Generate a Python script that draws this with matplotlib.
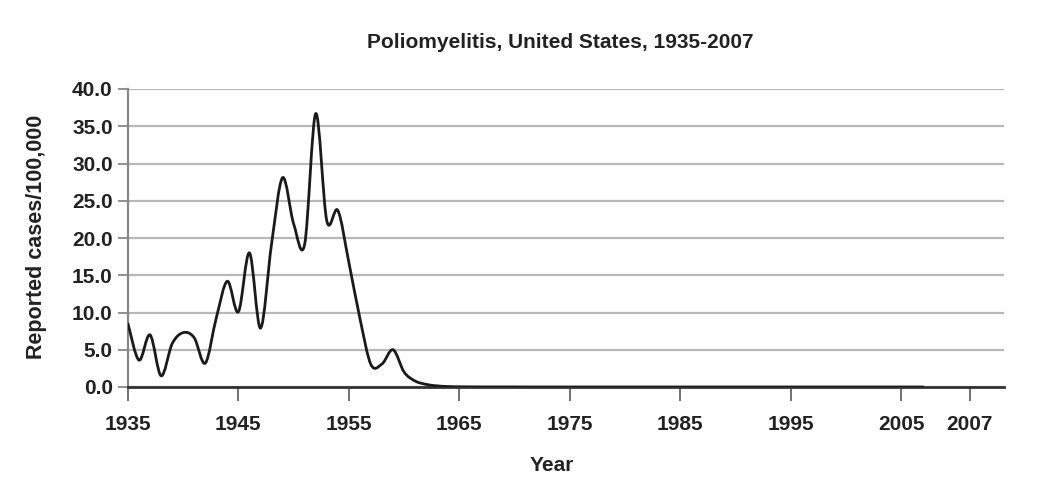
import matplotlib
matplotlib.use("Agg")
import numpy as np
import matplotlib.pyplot as plt
from matplotlib.path import Path
from matplotlib.patches import PathPatch

# data (cases per 100,000, one value per year)
years = list(range(1935, 2008))
cases = [8.5, 3.6, 7.0, 1.5, 5.8, 7.3, 6.6, 3.2, 9.3, 14.2,
         10.1, 18.0, 7.9, 19.2, 28.1, 21.9, 19.2, 36.7, 22.3, 23.7,
         16.7, 9.2, 3.0, 3.1, 5.0, 2.0, 0.8, 0.35, 0.15, 0.06,
         0.03, 0.02, 0.01, 0.01, 0.01, 0.01, 0.0, 0.0, 0.0, 0.0,
         0.0, 0.0, 0.0, 0.0, 0.0, 0.0, 0.0, 0.0, 0.0, 0.0,
         0.0, 0.0, 0.0, 0.0, 0.0, 0.0, 0.0, 0.0, 0.0, 0.0,
         0.0, 0.0, 0.0, 0.0, 0.0, 0.0, 0.0, 0.0, 0.0, 0.0,
         0.0, 0.0, 0.0]

xtick_pos = [1935, 1945, 1955, 1965, 1975, 1985, 1995, 2005, 2011.2]
xtick_labels = ["1935", "1945", "1955", "1965", "1975", "1985", "1995", "2005", "2007"]
ytick_vals = [0, 5, 10, 15, 20, 25, 30, 35, 40]

plt.rcParams['font.family'] = ['Liberation Sans', 'DejaVu Sans']
plt.rcParams['font.weight'] = 'bold'

fig = plt.figure(figsize=(10.42, 5), dpi=100)
ax = fig.add_axes([0.1228, 0.226, 0.8407, 0.596])


def smooth_path(x, y):
    # catmull-rom through the points, drawn as cubic beziers
    x = np.asarray(x, float)
    y = np.asarray(y, float)
    pts = np.column_stack([x, y])
    verts = [pts[0]]
    codes = [Path.MOVETO]
    for i in range(len(pts) - 1):
        p0 = pts[i - 1] if i > 0 else pts[i]
        p1 = pts[i]
        p2 = pts[i + 1]
        p3 = pts[i + 2] if i + 2 < len(pts) else pts[i + 1]
        verts += [p1 + (p2 - p0) / 6, p2 - (p3 - p1) / 6, p2]
        codes += [Path.CURVE4] * 3
    return Path(verts, codes)


ax.add_patch(PathPatch(smooth_path(years, cases), facecolor="none",
                       edgecolor="#1a1a1a", lw=2.0, zorder=3,
                       capstyle="round", joinstyle="round"))

ax.set_xlim(1935, 2014.3)
ax.set_ylim(0, 40)
ax.set_yticks(ytick_vals)
ax.set_yticklabels([f"{v:.1f}" for v in ytick_vals])
ax.set_xticks(xtick_pos)
ax.set_xticklabels(xtick_labels)

ax.yaxis.grid(True, color="#b8b8b8", lw=1.6)
ax.set_axisbelow(True)
for s in ["top", "right"]:
    ax.spines[s].set_visible(False)
ax.spines["left"].set_color("#888888")
ax.spines["left"].set_linewidth(1.6)
ax.spines["bottom"].set_color("#333333")
ax.spines["bottom"].set_linewidth(2.0)

ax.tick_params(axis="y", length=7, width=1.3, color="#888888", pad=4,
               labelsize=15, labelcolor="#222222")
ax.tick_params(axis="x", length=10, width=1.3, color="#666666", pad=10,
               labelsize=15, labelcolor="#222222")

ax.set_xlabel("Year", fontsize=15, fontweight="bold", color="#222222", va="center")
ax.xaxis.set_label_coords(0.484, -0.265)
ax.set_ylabel("Reported cases/100,000", fontsize=15.5, fontweight="bold", color="#222222", va="center")
ax.yaxis.set_label_coords(-0.104, 0.505)
fig.text(0.5375, 0.916, "Poliomyelitis, United States, 1935-2007", ha="center", va="center",
         fontsize=15, fontweight="bold", color="#222222")

plt.savefig("out.png", dpi=100)
